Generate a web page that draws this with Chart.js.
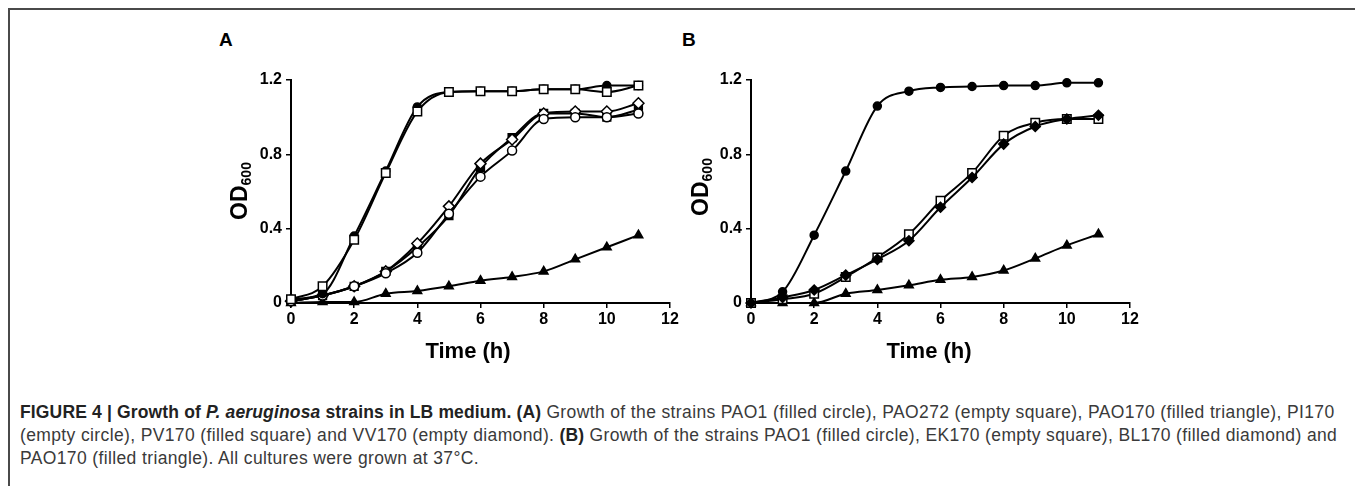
<!DOCTYPE html>
<html lang="en">
<head>
  <meta charset="UTF-8">
  <title>Figure 4</title>
  <script src="https://cdn.jsdelivr.net/npm/chart.js"></script>
  <style>
    body { margin: 0; width: 1355px; height: 486px; overflow: hidden; background: #fff; position: relative; font-family: "Liberation Sans", Arial, sans-serif; }
    #frame { position: absolute; left: 8px; top: 8px; width: 1400px; height: 600px; border-left: 2px solid #4a4a4a; border-top: 2px solid #4a4a4a; }
    .panel { position: absolute; top: 60px; width: 500px; height: 310px; }
    .letter { position: absolute; top: 29px; font-weight: bold; font-size: 19px; color: #000; }
    .ytitle { position: absolute; font-weight: bold; font-size: 23px; color: #000; transform: rotate(-90deg); transform-origin: center; white-space: nowrap; width: 80px; text-align: center; }
    .ytitle sub { font-size: 14px; vertical-align: -4px; }
    .xtitle { position: absolute; top: 338px; font-weight: bold; font-size: 22px; color: #000; width: 200px; text-align: center; }
    #caption { position: absolute; left: 20px; top: 401px; font-size: 17.5px; line-height: 23px; color: #3a3a3a; white-space: nowrap; letter-spacing: 0.37px; }
    #caption b { color: #222; letter-spacing: 0.15px; }
  </style>
</head>
<body>
  <div id="frame"></div>
  <div class="letter" style="left:219px">A</div>
  <div class="letter" style="left:682px">B</div>

  <div class="panel" style="left:190px"><canvas id="chartA"></canvas></div>
  <div class="panel" style="left:650px"><canvas id="chartB"></canvas></div>

  <div class="ytitle" style="left:200px; top:177px">OD<sub>600</sub></div>
  <div class="ytitle" style="left:661px; top:173px">OD<sub>600</sub></div>
  <div class="xtitle" style="left:368px">Time (h)</div>
  <div class="xtitle" style="left:829px">Time (h)</div>

  <div id="caption">
    <b>FIGURE 4 | Growth of <i>P. aeruginosa</i> strains in LB medium. (A)</b> Growth of the strains PAO1 (filled circle), PAO272 (empty square), PAO170 (filled triangle), PI170<br>
    (empty circle), PV170 (filled square) and VV170 (empty diamond). <b>(B)</b> Growth of the strains PAO1 (filled circle), EK170 (empty square), BL170 (filled diamond) and<br>
    PAO170 (filled triangle). All cultures were grown at 37°C.
  </div>

  <script>
    // sampling times (h)
    const hours = [0, 1, 2, 3, 4, 5, 6, 7, 8, 9, 10, 11];
    const xTicks = [0, 2, 4, 6, 8, 10, 12];
    const yTicks = [0, 0.4, 0.8, 1.2];

    // panel A
    const a_PAO1   = [0.02, 0.05, 0.36, 0.71, 1.055, 1.135, 1.14, 1.14, 1.15, 1.15, 1.17, 1.17];
    const a_PAO272 = [0.02, 0.09, 0.34, 0.70, 1.03, 1.135, 1.14, 1.14, 1.15, 1.15, 1.135, 1.17];
    const a_PAO170 = [0.0, 0.005, 0.005, 0.05, 0.065, 0.09, 0.12, 0.14, 0.17, 0.235, 0.30, 0.365];
    const a_PI170  = [0.01, 0.04, 0.09, 0.16, 0.27, 0.48, 0.68, 0.82, 0.99, 1.00, 1.00, 1.02];
    const a_PV170  = [0.01, 0.04, 0.09, 0.17, 0.30, 0.47, 0.73, 0.89, 1.02, 1.02, 1.00, 1.04];
    const a_VV170  = [0.01, 0.04, 0.09, 0.17, 0.32, 0.52, 0.75, 0.88, 1.02, 1.03, 1.03, 1.075];

    // panel B
    const b_PAO1   = [0.0, 0.06, 0.365, 0.71, 1.06, 1.14, 1.16, 1.165, 1.17, 1.17, 1.185, 1.185];
    const b_EK170  = [0.0, 0.02, 0.05, 0.14, 0.245, 0.37, 0.55, 0.70, 0.90, 0.97, 0.99, 0.99];
    const b_BL170  = [0.0, 0.03, 0.07, 0.15, 0.235, 0.335, 0.515, 0.675, 0.855, 0.95, 0.99, 1.01];
    const b_PAO170 = [0.0, 0.0, 0.0, 0.05, 0.07, 0.095, 0.125, 0.14, 0.175, 0.24, 0.31, 0.37];

    function series(label, values, style, filled, radius, order) {
      return {
        label: label,
        data: hours.map((h, i) => ({ x: h, y: values[i] })),
        borderColor: '#000',
        borderWidth: 2,
        pointStyle: style,
        pointRadius: radius,
        pointBorderWidth: 1.5,
        pointBorderColor: '#000',
        pointBackgroundColor: filled ? '#000' : '#fff',
        cubicInterpolationMode: 'monotone',
        fill: false,
        clip: false,
        order: order
      };
    }

    function makeChart(id, datasets) {
      const tickFont = { family: '"Liberation Sans", Arial, sans-serif', size: 16, weight: 'bold' };
      return new Chart(document.getElementById(id), {
        type: 'line',
        data: { datasets: datasets },
        options: {
          responsive: true,
          maintainAspectRatio: false,
          animation: false,
          layout: { padding: { left: 0, top: 20, right: 20, bottom: 0 } },
          plugins: { legend: { display: false }, tooltip: { enabled: false } },
          scales: {
            x: {
              type: 'linear', min: 0, max: 12,
              afterBuildTicks: s => { s.ticks = xTicks.map(v => ({ value: v })); },
              afterFit: s => { s.height = 67; },
              ticks: { color: '#000', font: tickFont, padding: 2, maxRotation: 0 },
              grid: { drawOnChartArea: false, drawTicks: true, tickLength: 5, color: '#000', lineWidth: 1.5 },
              border: { color: '#000', width: 2 }
            },
            y: {
              type: 'linear', min: 0, max: 1.2,
              afterBuildTicks: s => { s.ticks = yTicks.map(v => ({ value: v })); },
              afterFit: s => { s.width = 101; },
              ticks: { color: '#000', font: tickFont, padding: 4, callback: v => v === 0 ? '0' : v.toFixed(1) },
              grid: { drawOnChartArea: false, drawTicks: true, tickLength: 5, color: '#000', lineWidth: 1.5 },
              border: { color: '#000', width: 2 }
            }
          }
        }
      });
    }

    makeChart('chartA', [
      series('PAO272', a_PAO272, 'rect', false, 6, 1),
      series('PAO1', a_PAO1, 'circle', true, 4, 2),
      series('PI170', a_PI170, 'circle', false, 4.5, 3),
      series('VV170', a_VV170, 'rectRot', false, 5.5, 4),
      series('PV170', a_PV170, 'rect', true, 5.5, 5),
      series('PAO170', a_PAO170, 'triangle', true, 5, 6)
    ]);

    makeChart('chartB', [
      series('EK170', b_EK170, 'rect', false, 6, 2),
      series('BL170', b_BL170, 'rectRot', true, 5, 1),
      series('PAO1', b_PAO1, 'circle', true, 4, 3),
      series('PAO170', b_PAO170, 'triangle', true, 5, 4)
    ]);
  </script>
</body>
</html>
